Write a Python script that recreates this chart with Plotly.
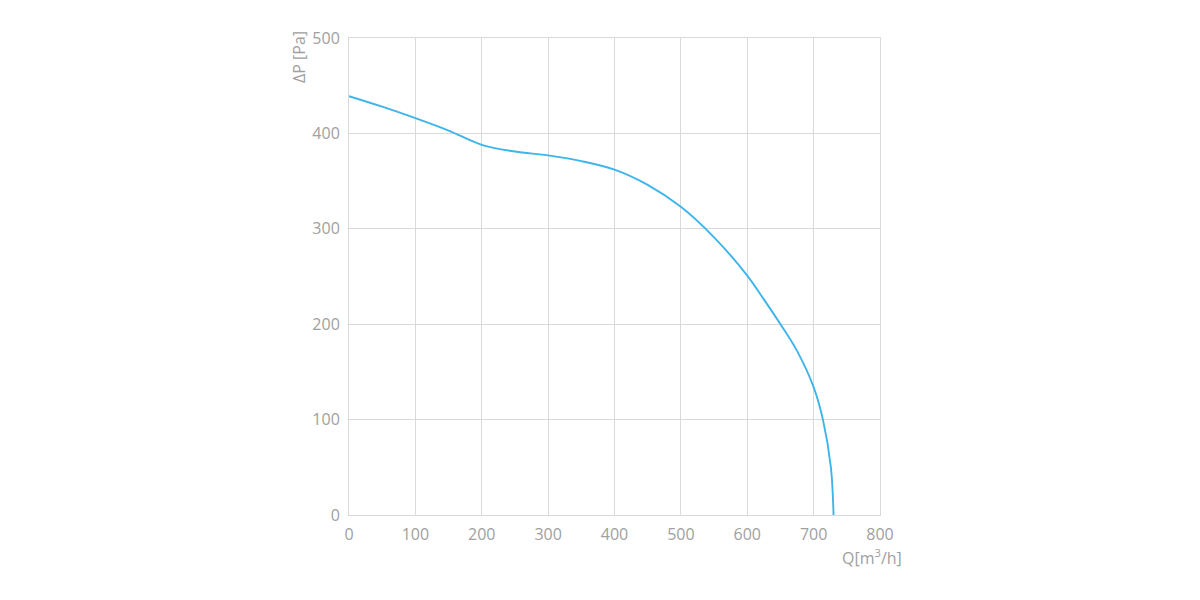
import plotly.graph_objects as go

flow_q = [0, 50, 100, 150, 200, 250, 300, 350, 400, 450, 500, 550, 600, 625, 650, 675, 700, 714, 726, 730]
pressure_dp = [439, 428, 416, 403, 388, 381, 377, 371, 362, 346, 323, 291, 251, 226, 200, 172, 134, 100, 50, 0]
x_ticks = [0, 100, 200, 300, 400, 500, 600, 700, 800]
y_ticks = [0, 100, 200, 300, 400, 500]

grid = "#d9d9d9"
tickc = "#a0a0a0"
font_fam = "Open Sans, DejaVu Sans, sans-serif"

# page body has 8px offset; target plot area: x 349..880, y 38..515
OFF = 8
L, R, T, B = 349 - OFF, 320 + OFF, 38 - OFF, 85 + OFF
pw, ph = 1200 - L - R, 600 - T - B

def px2paper(px, py):
    px -= OFF
    py -= OFF
    return (px - L) / pw, (600 - B - py) / ph

fig = go.Figure()
fig.add_trace(go.Scatter(
    x=flow_q, y=pressure_dp, mode="lines",
    line=dict(color="#3db5ea", width=1.9, shape="spline", smoothing=1.0),
    hoverinfo="x+y", showlegend=False,
))

ax1, ay1 = px2paper(299, 57)
ax2, ay2 = px2paper(872, 557)

fig.update_layout(
    width=1200, height=600,
    margin=dict(l=L, r=R, t=T, b=B, autoexpand=False),
    paper_bgcolor="white", plot_bgcolor="white",
    font=dict(family=font_fam, color=tickc, size=16),
    xaxis=dict(range=[0, 800], tickvals=x_ticks, showgrid=True, gridcolor=grid, gridwidth=1,
               showline=True, linecolor=grid, mirror=True, zeroline=False, automargin=False,
               ticks="", ticklabelstandoff=5, tickfont=dict(size=16, color=tickc), fixedrange=True),
    yaxis=dict(range=[0, 500], tickvals=y_ticks, showgrid=True, gridcolor=grid, gridwidth=1,
               showline=True, linecolor=grid, mirror=True, zeroline=False, automargin=False,
               ticks="", ticklabelstandoff=5, tickfont=dict(size=16, color=tickc), fixedrange=True),
    annotations=[
        dict(text="ΔP [Pa]", textangle=-90, x=ax1, y=ay1, xref="paper", yref="paper",
             xanchor="center", yanchor="middle",
             showarrow=False, font=dict(size=16, color=tickc)),
        dict(text="Q[m<sup>3</sup>/h]", x=ax2, y=ay2, xref="paper", yref="paper",
             xanchor="center", yanchor="middle",
             showarrow=False, font=dict(size=16, color=tickc)),
    ],
)

fig.write_html("out.html")
